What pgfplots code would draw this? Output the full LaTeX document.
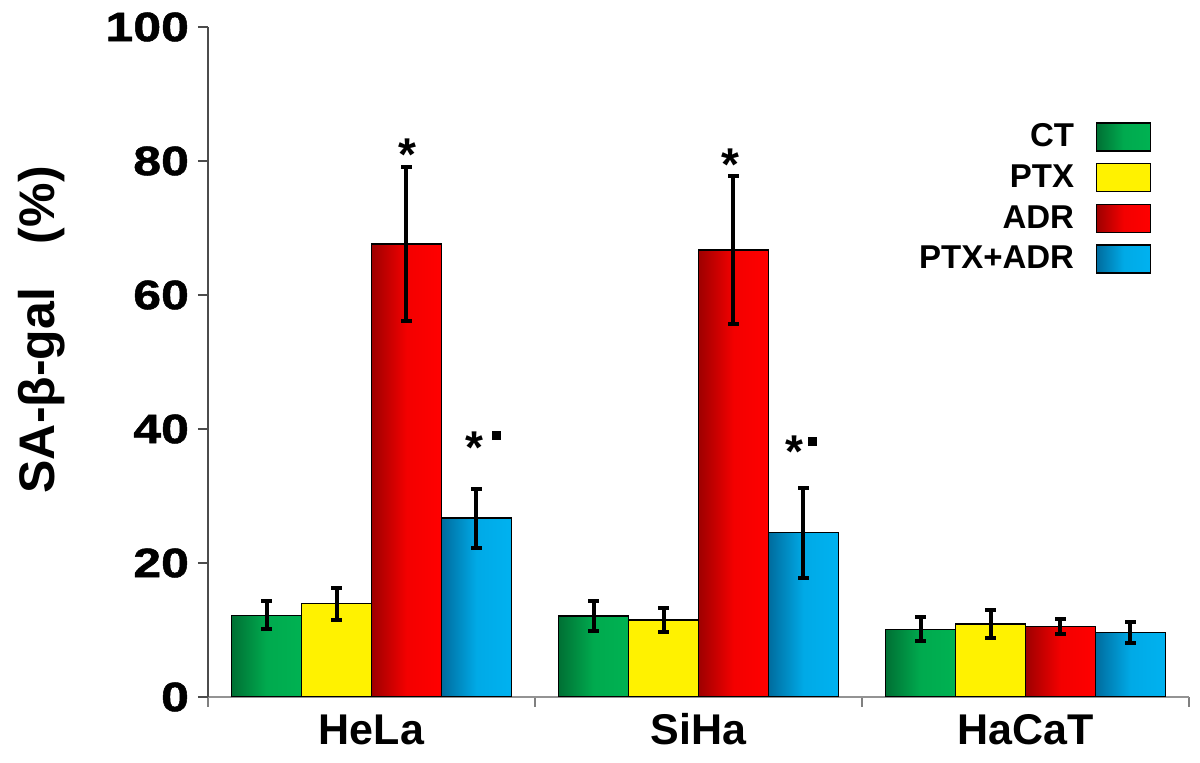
\documentclass[border=0pt]{standalone}
\usepackage{pgfplots}
\pgfplotsset{compat=1.18}
\usepackage{fontspec}
\setmainfont{Liberation Sans}
\newfontfamily\tickfont[FakeStretch=1.22, FakeBold=1.2]{Liberation Sans}

\definecolor{gdark}{RGB}{0,112,52}
\definecolor{glight}{RGB}{0,178,82}
\definecolor{rdark}{RGB}{158,0,0}
\definecolor{rlight}{RGB}{255,0,0}
\definecolor{bdark}{RGB}{0,108,158}
\definecolor{blight}{RGB}{0,178,240}

\pgfplotsset{
    ctbar/.style={draw=black, line width=0.6pt, left color=gdark, right color=glight, middle color=glight!88!gdark, bar shift=-0.321},
    ptxbar/.style={draw=black, line width=0.6pt, fill=yellow, bar shift=-0.107},
    adrbar/.style={draw=black, line width=0.6pt, left color=rdark, right color=rlight, middle color=rlight!88!rdark, bar shift=0.107},
    bothbar/.style={draw=black, line width=0.6pt, left color=bdark, right color=blight, middle color=blight!88!bdark, bar shift=0.321},
}

\begin{document}
\begin{tikzpicture}
\begin{axis}[
    scale only axis,
    width=490.5pt, height=335pt,
    ybar=0pt, bar width=0.214,
    xmin=-0.5, xmax=2.5,
    ymin=0, ymax=100,
    axis x line*=bottom,
    axis y line*=left,
    x axis line style={gray!85, line width=0.8pt},
    y axis line style={black!70, line width=0.7pt},
    tick align=outside,
    xtick={0,1,2},
    xticklabels={HeLa, SiHa, HaCaT},
    minor xtick={-0.5,0.5,1.5,2.5},
    every major x tick/.append style={draw=none},
    every minor x tick/.append style={gray, line width=0.7pt},
    minor tick length=5pt,
    major tick length=5pt,
    ytick={0,20,...,100},
    every major y tick/.append style={black!70, line width=0.7pt},
    /pgf/number format/assume math mode=true,
    yticklabel style={font=\tickfont\bfseries\fontsize{20.5}{21}\selectfont, xshift=-1pt},
    xticklabel style={font=\bfseries\fontsize{21.5}{22}\selectfont, anchor=base, yshift=-19pt},
    ylabel={SA-β-gal\hspace{0.6em} (\%)},
    ylabel style={font=\bfseries\fontsize{25}{25}\selectfont, at={(axis description cs:-0.17,0.548)}, anchor=center},
    legend plot pos=right,
    legend cell align=right,
    legend style={at={(rel axis cs:0.962,0.862)}, anchor=north east, draw=none, fill=none,
        font=\bfseries\fontsize{16.5}{17}\selectfont, row sep=3.5pt, inner sep=0pt},
    legend image code/.code={\path (0pt,0pt);\draw[#1, line width=0.7pt] (9pt,-7pt) rectangle (36pt,7pt);},
    error bars/y dir=both,
    error bars/y explicit,
    error bars/error bar style={black, line width=2pt},
    error bars/error mark options={rotate=90, black, mark size=2.6pt, line width=2pt},
]
% HeLa (these four give the legend)
\addplot[ctbar]   coordinates {(0,12.2) +- (0,2.1)};
\addplot[ptxbar]  coordinates {(0,13.9) +- (0,2.4)};
\addplot[adrbar]  coordinates {(0,67.6) +- (0,11.5)};
\addplot[bothbar] coordinates {(0,26.7) +- (0,4.4)};
\legend{CT, PTX, ADR, PTX+ADR}
% SiHa
\addplot[ctbar, forget plot]   coordinates {(1,12.1) +- (0,2.2)};
\addplot[ptxbar, forget plot]  coordinates {(1,11.5) +- (0,1.8)};
\addplot[adrbar, forget plot]  coordinates {(1,66.7) +- (0,11.0)};
\addplot[bothbar, forget plot] coordinates {(1,24.5) +- (0,6.7)};
% HaCaT
\addplot[ctbar, forget plot]   coordinates {(2,10.1) +- (0,1.8)};
\addplot[ptxbar, forget plot]  coordinates {(2,10.9) +- (0,2.1)};
\addplot[adrbar, forget plot]  coordinates {(2,10.5) +- (0,1.1)};
\addplot[bothbar, forget plot] coordinates {(2,9.6) +- (0,1.6)};

% significance marks
\node[anchor=north, inner sep=0pt, font=\bfseries\fontsize{23}{23}\selectfont] at (axis cs:0.109,83.3) {*};
\node[anchor=north, inner sep=0pt, font=\bfseries\fontsize{23}{23}\selectfont] at (axis cs:1.098,81.9) {*};
\node[anchor=north, inner sep=0pt, font=\bfseries\fontsize{23}{23}\selectfont] at (axis cs:0.316,39.7) {*};
\node[anchor=north, inner sep=0pt, font=\bfseries\fontsize{23}{23}\selectfont] at (axis cs:1.292,39.0) {*};
\node[inner sep=0pt] at (axis cs:0.383,39.0) {\rule{4.5pt}{4.5pt}};
\node[inner sep=0pt] at (axis cs:1.350,38.1) {\rule{4.5pt}{4.5pt}};
\end{axis}
\pgfresetboundingbox
\path (-104pt,-33pt) rectangle (496pt,348.5pt);
\end{tikzpicture}
\end{document}
